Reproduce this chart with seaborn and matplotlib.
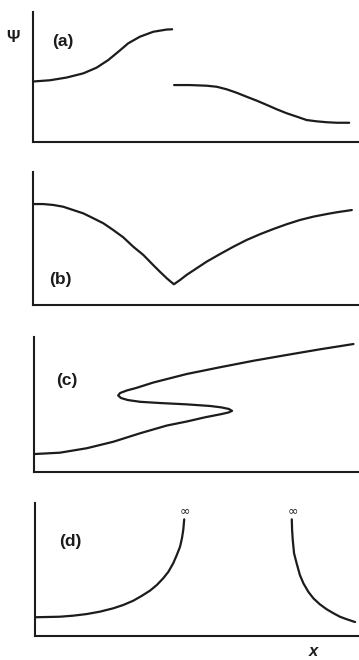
import matplotlib
matplotlib.use("Agg")
import matplotlib.pyplot as plt
import seaborn as sns

sns.set_theme(style="white")
plt.rcParams["font.family"] = ["Liberation Sans", "DejaVu Sans"]

INK = "#1c1c1c"

# (a) two separate branches of psi(x)
a1_x = [0.0, 0.54, 1.05, 1.56, 1.97, 2.33, 2.64, 2.94, 3.30, 3.71, 4.12, 4.29]
a1_y = [0.465, 0.475, 0.496, 0.528, 0.572, 0.631, 0.695, 0.759, 0.810, 0.848, 0.865, 0.867]
a2_x = [4.35, 4.84, 5.35, 5.66, 5.97, 6.27, 6.58, 6.89, 7.20, 7.50, 7.81, 8.12,
        8.42, 8.73, 9.04, 9.35, 9.73]
a2_y = [0.438, 0.438, 0.433, 0.425, 0.405, 0.379, 0.348, 0.318, 0.285, 0.252, 0.221, 0.195,
        0.169, 0.159, 0.152, 0.148, 0.148]

# (b) continuous curve with a cusp
b_x = [0.0, 0.31, 0.62, 0.92, 1.23, 1.54, 1.85, 2.16, 2.46, 2.77, 3.08, 3.39, 3.69,
       3.90, 4.11, 4.21, 4.33, 4.52, 4.72, 5.03, 5.34, 5.75, 6.16, 6.57, 6.98, 7.39,
       7.80, 8.21, 8.62, 9.04, 9.34, 9.81]
b_y = [0.759, 0.759, 0.752, 0.739, 0.714, 0.689, 0.652, 0.614, 0.564, 0.509, 0.438, 0.376,
       0.301, 0.250, 0.201, 0.180, 0.156, 0.188, 0.226, 0.276, 0.326, 0.383, 0.438, 0.489,
       0.532, 0.571, 0.607, 0.639, 0.664, 0.684, 0.697, 0.714]

# (c) multivalued, S-shaped curve
c_x = [0.0, 0.79, 1.62, 2.44, 3.27, 4.09, 4.71, 5.27, 5.74, 6.00, 6.11,
       6.01, 5.77, 5.43, 4.71, 3.88, 3.27, 2.89, 2.68, 2.59, 2.65, 2.86, 3.14,
       3.68, 4.71, 5.74, 6.77, 7.80, 8.83, 9.86]
c_y = [0.133, 0.143, 0.176, 0.224, 0.287, 0.344, 0.374, 0.405, 0.427, 0.441, 0.453,
       0.467, 0.479, 0.489, 0.501, 0.511, 0.520, 0.533, 0.548, 0.567, 0.585, 0.604, 0.622,
       0.663, 0.726, 0.776, 0.824, 0.867, 0.909, 0.948]

# (d) curve diverging on both sides of a gap
d1_x = [0.0, 0.77, 1.19, 1.60, 2.01, 2.42, 2.73, 3.04, 3.30, 3.56, 3.77, 3.97,
        4.13, 4.28, 4.39, 4.49, 4.55, 4.59, 4.62]
d1_y = [0.141, 0.145, 0.153, 0.165, 0.183, 0.208, 0.233, 0.265, 0.301, 0.341, 0.383, 0.434,
        0.483, 0.547, 0.609, 0.671, 0.735, 0.797, 0.877]
d2_x = [7.95, 7.96, 7.98, 8.02, 8.10, 8.20, 8.31, 8.46, 8.62, 8.82, 9.03, 9.24,
        9.44, 9.65, 9.91]
d2_y = [0.877, 0.797, 0.722, 0.622, 0.547, 0.459, 0.396, 0.333, 0.283, 0.238, 0.201, 0.171,
        0.145, 0.126, 0.105]

panel_labels = ["(a)", "(b)", "(c)", "(d)"]
label_pos = [(0.092, 0.77), (0.082, 0.19), (0.10, 0.68), (0.108, 0.71)]
inf_x = [4.64, 7.98]

W, H = 359, 660
fig = plt.figure(figsize=(W / 100, H / 100), dpi=100)
fig.patch.set_facecolor("white")

# axes boxes in pixels: left, bottom(y of x-axis), top, right
boxes = [(32.5, 142, 12, 358), (33.3, 305, 172, 358),
         (34.3, 472, 337, 358), (35.0, 636, 503, 358)]
axes = []
for (l, b, t, r) in boxes:
    ax = fig.add_axes([l / W, 1 - b / H, (r - l) / W, (b - t) / H])
    ax.set_xlim(0, 10)
    ax.set_ylim(0, 1)
    ax.set_xticks([])
    ax.set_yticks([])
    ax.set_facecolor("none")
    sns.despine(ax=ax)
    for s in ("left", "bottom"):
        ax.spines[s].set_color(INK)
        ax.spines[s].set_linewidth(1.5)
    axes.append(ax)

kw = dict(color=INK, linewidth=1.6, sort=False, estimator=None, legend=False,
          solid_joinstyle="round", solid_capstyle="round")
sns.lineplot(x=a1_x, y=a1_y, ax=axes[0], **kw)
sns.lineplot(x=a2_x, y=a2_y, ax=axes[0], **kw)
sns.lineplot(x=b_x, y=b_y, ax=axes[1], **kw)
sns.lineplot(x=c_x, y=c_y, ax=axes[2], **kw)
sns.lineplot(x=d1_x, y=d1_y, ax=axes[3], **kw)
sns.lineplot(x=d2_x, y=d2_y, ax=axes[3], **kw)

for ax, lab, (lx, ly) in zip(axes, panel_labels, label_pos):
    ax.text(lx, ly, lab, transform=ax.transAxes, ha="center", va="center",
            fontsize=12.5, fontweight="bold", color=INK)

for xi in inf_x:
    axes[3].text(xi, 0.945, "\u221e", ha="center", va="center",
                 fontsize=9, color=INK, family=["DejaVu Sans"])

fig.text(13 / W, 1 - 37 / H, "\u03a8", ha="center", va="center",
         fontsize=12, fontweight="bold", color=INK)
fig.text(313 / W, 1 - 651 / H, "x", ha="center", va="center",
         fontsize=12, style="italic", fontweight="bold", color=INK)

fig.savefig("out.png", dpi=100, facecolor="white")
